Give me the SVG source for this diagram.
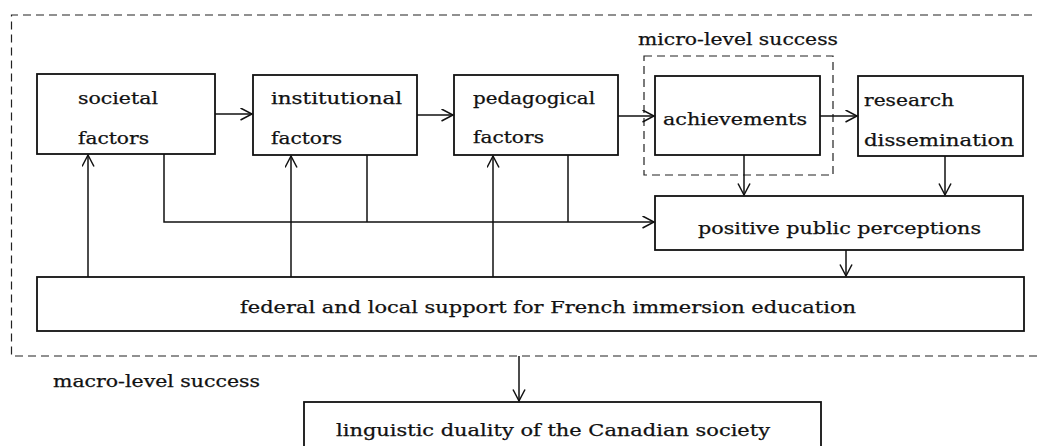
<svg xmlns="http://www.w3.org/2000/svg" width="1037" height="446" viewBox="0 0 1037 446">
<style>
.box{fill:none;stroke:#111;stroke-width:1.8}
.dash{fill:none;stroke:#222;stroke-width:1.2;stroke-dasharray:8 5}
.ln{fill:none;stroke:#111;stroke-width:1.5}
.arr{fill:none;stroke:#111;stroke-width:1.5;marker-end:url(#ah)}
text{font-family:"DejaVu Serif","Liberation Serif",serif;font-size:16.5px;fill:#111;stroke:#111;stroke-width:0.25}
</style>
<defs>
<marker id="ah" markerUnits="userSpaceOnUse" markerWidth="16" markerHeight="16" refX="12" refY="6.5" orient="auto">
<path d="M0.5,0.5 L12,6.5 L0.5,12.5" fill="none" stroke="#111" stroke-width="1.5"/>
</marker>
</defs>
<rect width="1037" height="446" fill="#fff"/>
<g id="macro-level">
<path class="dash" d="M1045,15 H11.5 V356 H1045"/>
<text x="53" y="387" textLength="207" lengthAdjust="spacingAndGlyphs">macro-level success</text>
</g>
<g id="micro-level">
<rect class="dash" x="644" y="56" width="189" height="119"/>
<text x="638" y="45" textLength="200" lengthAdjust="spacingAndGlyphs">micro-level success</text>
</g>
<g id="societal">
<rect class="box" x="37" y="74" width="178" height="80"/>
<text x="78" y="104" textLength="80" lengthAdjust="spacingAndGlyphs">societal</text>
<text x="78" y="144" textLength="71" lengthAdjust="spacingAndGlyphs">factors</text>
</g>
<g id="institutional">
<rect class="box" x="253" y="75" width="164" height="80"/>
<text x="271" y="104" textLength="131" lengthAdjust="spacingAndGlyphs">institutional</text>
<text x="271" y="144" textLength="71" lengthAdjust="spacingAndGlyphs">factors</text>
</g>
<g id="pedagogical">
<rect class="box" x="454" y="75" width="164" height="80"/>
<text x="473" y="104" textLength="122" lengthAdjust="spacingAndGlyphs">pedagogical</text>
<text x="473" y="143" textLength="71" lengthAdjust="spacingAndGlyphs">factors</text>
</g>
<g id="achievements">
<rect class="box" x="655" y="76" width="165" height="79"/>
<text x="663" y="125" textLength="144" lengthAdjust="spacingAndGlyphs">achievements</text>
</g>
<g id="research">
<rect class="box" x="858" y="76" width="165" height="80"/>
<text x="864" y="106" textLength="90" lengthAdjust="spacingAndGlyphs">research</text>
<text x="864" y="146" textLength="150" lengthAdjust="spacingAndGlyphs">dissemination</text>
</g>
<g id="perceptions">
<rect class="box" x="655" y="196" width="368" height="54"/>
<text x="698" y="234" textLength="283" lengthAdjust="spacingAndGlyphs">positive public perceptions</text>
</g>
<g id="support">
<rect class="box" x="37" y="277" width="987" height="54"/>
<text x="240" y="313" textLength="616" lengthAdjust="spacingAndGlyphs">federal and local support for French immersion education</text>
</g>
<g id="duality">
<rect class="box" x="304" y="402" width="517" height="60"/>
<text x="336" y="436" textLength="434" lengthAdjust="spacingAndGlyphs">linguistic duality of the Canadian society</text>
</g>
<g id="connectors">
<path class="arr" d="M215,114 H252"/>
<path class="arr" d="M417,115 H453"/>
<path class="arr" d="M618,116 H654"/>
<path class="arr" d="M820,116 H857"/>
<path class="arr" d="M744,155 V195"/>
<path class="arr" d="M945,156 V195"/>
<path class="arr" d="M164,154 V222 H654"/>
<path class="ln" d="M367,155 V222"/>
<path class="ln" d="M568,155 V222"/>
<path class="arr" d="M88,277 V155"/>
<path class="arr" d="M291,277 V156"/>
<path class="arr" d="M493,277 V156"/>
<path class="arr" d="M846,250 V276"/>
<path class="arr" d="M519,356 V401"/>
</g>
</svg>
